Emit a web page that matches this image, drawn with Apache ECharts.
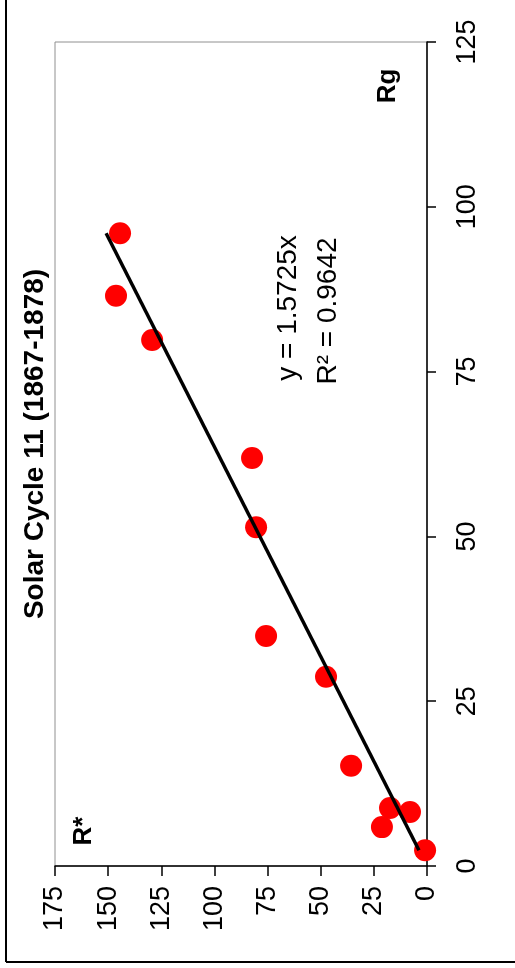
<!DOCTYPE html>
<html>
<head>
<meta charset="utf-8">
<script src="https://cdn.jsdelivr.net/npm/echarts@6/dist/echarts.min.js"></script>
<style>
html,body{margin:0;padding:0;background:#fff;}
#chart{width:515px;height:968px;}
</style>
</head>
<body>
<div id="chart"></div>
<script>
// Data (unrotated sense: x = Rg, y = R*)
const rg    = [2.4, 8.2, 8.8, 5.9, 15.2, 28.7, 34.9, 51.4, 61.9, 79.8, 86.5, 96.0];
const rstar = [0.9, 8.0, 17.4, 21.2, 35.7, 47.5, 75.7, 80.4, 82.3, 129.3, 146.3, 144.4];
const slope = 1.5725;
const r2 = 0.9642;
const rgTicks = [0, 25, 50, 75, 100, 125];
const rstarTicks = [0, 25, 50, 75, 100, 125, 150, 175];
const titleText = 'Solar Cycle 11 (1867-1878)';

const FONT = 'Liberation Sans, Arial, sans-serif';
const points = rg.map((v, i) => [rstar[i], v]);
const rgMin = Math.min(...rg), rgMax = Math.max(...rg);
const trend = [[slope * rgMin, rgMin], [slope * rgMax, rgMax]];

const chart = echarts.init(document.getElementById('chart'), null, {renderer: 'canvas'});
const ROT = Math.PI / 2;
chart.setOption({
  animation: false,
  backgroundColor: '#fff',
  grid: {left: 55, right: 88, top: 42, bottom: 102, show: true, borderColor: '#909090', borderWidth: 1, containLabel: false},
  xAxis: {
    type: 'value', min: rstarTicks[0], max: rstarTicks[rstarTicks.length - 1], interval: 25,
    inverse: true, position: 'bottom',
    axisLine: {show: true, onZero: false, lineStyle: {color: '#000', width: 1.5}},
    axisTick: {show: true, inside: false, length: 10, lineStyle: {color: '#000', width: 1.5}},
    axisLabel: {rotate: 90, margin: 20, fontSize: 27, color: '#000', fontFamily: FONT},
    splitLine: {show: false}
  },
  yAxis: {
    type: 'value', min: rgTicks[0], max: rgTicks[rgTicks.length - 1], interval: 25,
    position: 'right',
    axisLine: {show: true, onZero: false, lineStyle: {color: '#000', width: 1.5}},
    axisTick: {show: true, inside: false, length: 9, lineStyle: {color: '#000', width: 1.5}},
    axisLabel: {rotate: 90, margin: 27, fontSize: 27, color: '#000', fontFamily: FONT},
    splitLine: {show: false}
  },
  series: [
    {
      type: 'scatter', data: points, symbol: 'circle', symbolSize: 22,
      itemStyle: {color: '#ff0000', opacity: 1}, z: 2
    },
    {
      type: 'line', data: trend, symbol: 'none', showSymbol: false,
      lineStyle: {color: '#000', width: 3.5}, z: 3
    }
  ],
  graphic: [
    {type: 'line', shape: {x1: 6, y1: 0, x2: 6, y2: 962}, style: {stroke: '#000', lineWidth: 2}},
    {type: 'line', shape: {x1: 6, y1: 962, x2: 515, y2: 962}, style: {stroke: '#000', lineWidth: 2}},
    {type: 'text', x: 35, y: 444, rotation: ROT,
     style: {text: titleText, font: 'bold 28px ' + FONT, fill: '#000', align: 'center', verticalAlign: 'middle'}},
    {type: 'text', x: 388, y: 86, rotation: ROT,
     style: {text: 'Rg', font: 'bold 26px ' + FONT, fill: '#000', align: 'center', verticalAlign: 'middle'}},
    {type: 'text', x: 84, y: 831, rotation: ROT,
     style: {text: 'R*', font: 'bold 26px ' + FONT, fill: '#000', align: 'center', verticalAlign: 'middle'}},
    {type: 'text', x: 288, y: 308, rotation: ROT,
     style: {text: 'y = ' + slope + 'x', font: '28px ' + FONT, fill: '#000', align: 'center', verticalAlign: 'middle'}},
    {type: 'text', x: 328, y: 311, rotation: ROT,
     style: {text: 'R\u00B2 = ' + r2, font: '28px ' + FONT, fill: '#000', align: 'center', verticalAlign: 'middle'}}
  ]
});
</script>
</body>
</html>
